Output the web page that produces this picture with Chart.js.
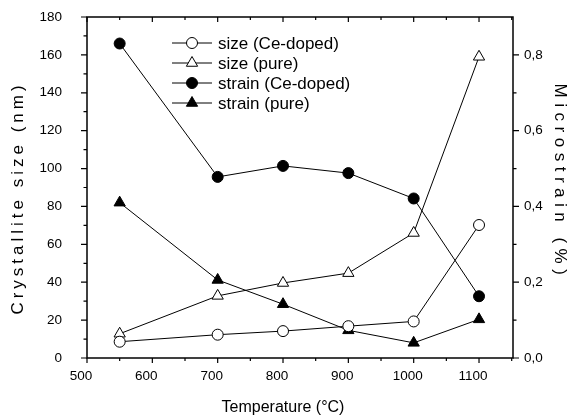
<!DOCTYPE html>
<html>
<head>
    <meta charset="utf-8">
    <title>Crystallite size and microstrain vs temperature</title>
    <style>
        body { margin: 0; background: #fff; }
        #chart { display: block; }
    </style>
</head>
<body>
    <canvas id="chart" width="568" height="420"></canvas>

    <script src="https://cdn.jsdelivr.net/npm/chart.js"></script>
    <script>
        // --- datos ---
        const temps = [550, 700, 800, 900, 1000, 1100];
        const sizeCe = [8.6, 12.3, 14.2, 16.8, 19.3, 70.2];
        const sizePure = [12.8, 32.8, 39.6, 44.8, 66.0, 159.0];
        const strainCe = [0.83, 0.478, 0.507, 0.488, 0.421, 0.163];
        const strainPure = [0.41, 0.206, 0.142, 0.073, 0.04, 0.102];

        const xTicks = [500, 600, 700, 800, 900, 1000, 1100];
        const sizeTicks = [0, 20, 40, 60, 80, 100, 120, 140, 160, 180];
        const strainTicks = [0, 0.2, 0.4, 0.6, 0.8];

        const seriesLabels = ['size (Ce-doped)', 'size (pure)', 'strain (Ce-doped)', 'strain (pure)'];

        const FONT = '"Liberation Sans", Arial, sans-serif';

        function pts(ys) {
            return temps.map((t, i) => ({ x: t, y: ys[i] }));
        }

        function lineSet(label, ys, axis, style, filled) {
            return {
                label: label,
                data: pts(ys),
                yAxisID: axis,
                borderColor: '#000',
                borderWidth: 1,
                pointStyle: style,
                pointRadius: style === 'triangle' ? 6.5 : 5.5,
                pointHoverRadius: style === 'triangle' ? 6.5 : 5.5,
                pointBorderWidth: 1,
                pointBorderColor: '#000',
                pointBackgroundColor: filled ? '#000' : '#fff',
                tension: 0
            };
        }

        // tamaño fijo de cada eje, sin el relleno extra de las etiquetas
        function fixSize(w, h) {
            return s => {
                if (w) s.width = w;
                if (h) s.height = h;
                s.paddingTop = 0; s.paddingBottom = 0;
                s.paddingLeft = 0; s.paddingRight = 0;
            };
        }

        // ticks + marco + leyenda + titulos de ejes
        const decorPlugin = {
            id: 'decor',
            afterDraw(chart) {
                const ctx = chart.ctx;
                const a = chart.chartArea;
                const sx = chart.scales.x, sy = chart.scales.y, sy2 = chart.scales.y2;
                ctx.save();
                ctx.strokeStyle = '#000';
                ctx.lineWidth = 1.5;
                ctx.strokeRect(a.left, a.top, a.right - a.left, a.bottom - a.top);

                ctx.lineWidth = 1.2;
                ctx.beginPath();
                // eje x: abajo hacia fuera, arriba hacia dentro
                for (let v = 500; v <= 1150; v += 50) {
                    const px = sx.getPixelForValue(v);
                    const len = v % 100 === 0 ? 5 : 3;
                    ctx.moveTo(px, a.bottom); ctx.lineTo(px, a.bottom + len);
                    ctx.moveTo(px, a.top); ctx.lineTo(px, a.top + len);
                }
                // eje izquierdo
                for (let v = 0; v <= 180; v += 10) {
                    const py = sy.getPixelForValue(v);
                    const len = v % 20 === 0 ? 6 : 3.5;
                    ctx.moveTo(a.left, py); ctx.lineTo(a.left - len, py);
                }
                // eje derecho
                for (let i = 0; i <= 8; i++) {
                    const py = sy2.getPixelForValue(i / 10);
                    const len = i % 2 === 0 ? 6 : 3.5;
                    ctx.moveTo(a.right, py); ctx.lineTo(a.right + len, py);
                }
                ctx.stroke();

                // leyenda dentro del area
                ctx.font = '17px ' + FONT;
                ctx.textBaseline = 'middle';
                ctx.textAlign = 'left';
                chart.data.datasets.forEach((ds, i) => {
                    const y = 43 + i * 20;
                    ctx.strokeStyle = '#000';
                    ctx.lineWidth = 1;
                    ctx.beginPath();
                    ctx.moveTo(172, y); ctx.lineTo(212, y);
                    ctx.stroke();
                    ctx.fillStyle = ds.pointBackgroundColor;
                    Chart.helpers.drawPoint(ctx, {
                        pointStyle: ds.pointStyle,
                        radius: ds.pointRadius,
                        rotation: 0,
                        borderWidth: 1
                    }, 192, y);
                    ctx.fillStyle = '#000';
                    ctx.fillText(ds.label, 218, y + 1);
                });

                // titulos
                ctx.fillStyle = '#000';
                ctx.textAlign = 'center';
                ctx.font = '16px ' + FONT;
                ctx.fillText('Temperature (°C)', 283, 408);

                ctx.font = '17px ' + FONT;
                ctx.letterSpacing = '4px';
                ctx.save();
                ctx.translate(18, 200);
                ctx.rotate(-Math.PI / 2);
                ctx.fillText('Crystallite size (nm)', 2, 0);
                ctx.restore();

                ctx.letterSpacing = '5.5px';
                ctx.save();
                ctx.translate(560, 182);
                ctx.rotate(Math.PI / 2);
                ctx.fillText('Microstrain (%)', 0, 0);
                ctx.restore();

                ctx.restore();
            }
        };

        const tickFont = { family: FONT, size: 13.5 };

        new Chart(document.getElementById('chart'), {
            type: 'line',
            data: {
                datasets: [
                    lineSet(seriesLabels[0], sizeCe, 'y', 'circle', false),
                    lineSet(seriesLabels[1], sizePure, 'y', 'triangle', false),
                    lineSet(seriesLabels[2], strainCe, 'y2', 'circle', true),
                    lineSet(seriesLabels[3], strainPure, 'y2', 'triangle', true)
                ]
            },
            options: {
                responsive: false,
                animation: false,
                devicePixelRatio: 1,
                layout: { padding: { top: 17, left: 0, right: 0, bottom: 0 } },
                plugins: {
                    legend: { display: false },
                    tooltip: { enabled: false }
                },
                scales: {
                    x: {
                        type: 'linear',
                        position: 'bottom',
                        min: 500,
                        max: 1152,
                        afterFit: fixSize(0, 62),
                        afterBuildTicks: s => { s.ticks = xTicks.map(v => ({ value: v })); },
                        grid: { display: false, drawTicks: false, tickLength: 0 },
                        border: { display: false },
                        ticks: { font: tickFont, color: '#000', padding: 10, labelOffset: -6, callback: v => String(v) }
                    },
                    y: {
                        position: 'left',
                        min: 0,
                        max: 180,
                        afterFit: fixSize(87, 0),
                        afterBuildTicks: s => { s.ticks = sizeTicks.map(v => ({ value: v })); },
                        grid: { display: false, drawTicks: false, tickLength: 0 },
                        border: { display: false },
                        ticks: { font: tickFont, color: '#000', padding: 25 }
                    },
                    y2: {
                        position: 'right',
                        min: 0,
                        max: 0.9,
                        afterFit: fixSize(55, 0),
                        afterBuildTicks: s => { s.ticks = strainTicks.map(v => ({ value: v })); },
                        grid: { display: false, drawTicks: false, tickLength: 0 },
                        border: { display: false },
                        ticks: {
                            font: tickFont,
                            color: '#000',
                            padding: 11,
                            callback: v => v.toFixed(1).replace('.', ',')
                        }
                    }
                }
            },
            plugins: [decorPlugin]
        });
    </script>
</body>
</html>
